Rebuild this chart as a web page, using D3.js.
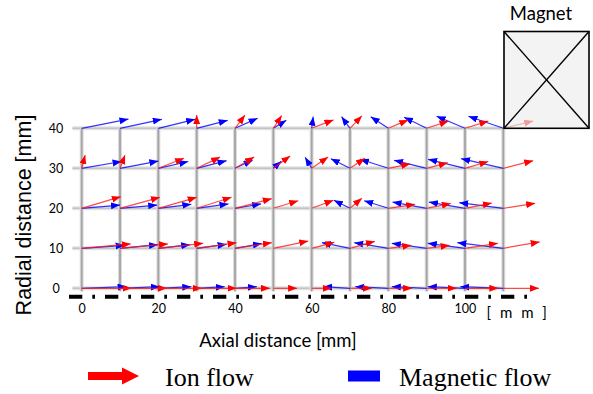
<!DOCTYPE html>
<html>
<head>
<meta charset="utf-8">
<script src="https://cdn.jsdelivr.net/npm/d3@7"></script>
<style>
  body { margin: 0; background: #fff; }
  svg { display: block; }
</style>
</head>
<body>
<svg id="chart" width="593" height="394"></svg>
<script>
// grid positions [mm]
const axial = [0, 10, 20, 30, 40, 50, 60, 70, 80, 90, 100, 110];
const radial = [0, 10, 20, 30, 40];
const xTicks = [0, 20, 40, 60, 80, 100];
const yTicks = [0, 10, 20, 30, 40];

// ion flow vectors (u = axial, v = radial), one array per radial row; null = no arrow
const ionU0 = [13.0, 12.2, 11.3, 10.4, 9.1, 6.2, 5.2, 5.7, 6.2, 7.8, 8.7, 9.3];
const ionV0 = [0, 0, 0, 0, 0, 0, 0, 0, 0, 0, 0, 0];
const ionU10 = [12.8, 12.5, 11.7, 10.4, 9.6, 9.1, 5.9, 6.5, 6.0, 6.0, 8.6, 9.5];
const ionV10 = [1.1, 1.1, 1.25, 1.4, 1.4, 1.8, 1.5, 1.75, 0.75, 0.75, 1.25, 1.6];
const ionU20 = [10.2, 10.4, 10.0, 9.1, 9.6, 6.5, 5.7, 3.1, 7.0, 6.3, 7.0, 8.3];
const ionV20 = [2.9, 2.75, 2.75, 2.75, 2.4, 1.9, 2.0, 2.5, 1.0, 1.2, 1.3, 1.25];
const ionU30 = [0.9, 1.3, 6.7, 6.1, 5.0, 4.4, 4.3, 3.9, 5.7, 5.5, 6.1, 7.8];
const ionV30 = [3.3, 3.3, 2.5, 2.8, 2.8, 3.1, 2.8, 2.5, 1.1, 1.4, 1.7, 1.9];
const ionU40 = [null, null, null, 0, 2.6, 2.2, 5.7, 3.1, 5.2, 5.7, 6.1, 7.8];
const ionV40 = [null, null, null, 3.3, 3.3, 3.2, 2.1, 3.1, 2.1, 1.8, 1.8, 1.8];

// magnetic flow vectors
const magU0 = [11.7, 10.4, 8.6, 7.3, 5.7, null, null, -7.0, -8.6, -9.1, -9.7, -11.2];
const magV0 = [0.4, 0.4, 0.4, 0.4, 0.4, null, null, 0.4, 0.4, 0.4, 0.4, 0.4];
const magU10 = [11.2, 9.9, 8.3, 7.8, 7.0, null, null, -7.3, -8.9, -9.1, -9.7, -12.0];
const magV10 = [0.75, 0.9, 0.9, 1.0, 1.2, null, null, 1.4, 1.4, 1.25, 1.25, 1.4];
const magU20 = [10.0, 9.7, 8.6, 8.3, 6.8, null, null, -4.2, -6.3, -8.9, -9.4, -11.5];
const magV20 = [0.8, 0.8, 1.0, 1.1, 1.1, null, null, 2.0, 1.9, 1.55, 1.55, 1.4];
const magU30 = [10.4, 10.0, 7.8, 7.8, 4.6, 2.1, -1.7, -5.0, -7.4, -8.5, -9.6, -11.0];
const magV30 = [1.7, 1.8, 1.7, 1.9, 2.0, 1.75, 2.75, 2.4, 2.25, 2.0, 2.25, 2.4];
const magU40 = [12.2, 10.9, 9.6, 8.1, 5.9, 3.4, 0.4, -2.2, -4.6, -5.9, -7.4, -9.1];
const magV40 = [2.3, 2.25, 2.25, 2.0, 2.5, 2.0, 2.9, 2.9, 2.9, 2.75, 3.0, 3.0];

const ionRows = [[ionU0, ionV0], [ionU10, ionV10], [ionU20, ionV20], [ionU30, ionV30], [ionU40, ionV40]];
const magRows = [[magU0, magV0], [magU10, magV10], [magU20, magV20], [magU30, magV30], [magU40, magV40]];

function toVectors(rows) {
  const out = [];
  rows.forEach(([us, vs], j) => {
    axial.forEach((ax, i) => {
      if (us[i] === null) return;
      out.push({ x: ax, y: radial[j], u: us[i], v: vs[i] });
    });
  });
  return out;
}

const svg = d3.select('#chart');
const x = d3.scaleLinear().domain([0, 110]).range([81.7, 503.3]);
const y = d3.scaleLinear().domain([0, 40]).range([288.3, 128.3]);

// arrow markers
const defs = svg.append('defs');
[['ionHead', '#ff0000'], ['magHead', '#0000ff']].forEach(([id, c]) => {
  defs.append('marker')
    .attr('id', id)
    .attr('markerUnits', 'userSpaceOnUse')
    .attr('markerWidth', 10).attr('markerHeight', 8)
    .attr('refX', 9).attr('refY', 3.5)
    .attr('orient', 'auto')
    .append('path').attr('d', 'M0,0 L9,3.5 L0,7 Z').attr('fill', c);
});

// grid
const grid = svg.append('g');
grid.selectAll('.hband').data(radial).join('line')
  .attr('x1', 72.5).attr('x2', x(110))
  .attr('y1', d => y(d)).attr('y2', d => y(d))
  .attr('stroke', '#e2e2e2').attr('stroke-width', 4);
grid.selectAll('.hline').data(radial).join('line')
  .attr('x1', 72.5).attr('x2', x(110))
  .attr('y1', d => y(d)).attr('y2', d => y(d))
  .attr('stroke', '#c4c4c4').attr('stroke-width', 1.6);
grid.selectAll('.vband').data(axial).join('line')
  .attr('x1', d => x(d)).attr('x2', d => x(d))
  .attr('y1', y(40)).attr('y2', y(0) + 3)
  .attr('stroke', '#dcdcdc').attr('stroke-width', 4);
grid.selectAll('.vline').data(axial).join('line')
  .attr('x1', d => x(d)).attr('x2', d => x(d))
  .attr('y1', y(40)).attr('y2', y(0) + 3)
  .attr('stroke', '#a4a4a4').attr('stroke-width', 1.8);

// dash-dot centre line
svg.append('line')
  .attr('x1', 69).attr('x2', 528).attr('y1', 296.7).attr('y2', 296.7)
  .attr('stroke', '#000').attr('stroke-width', 4)
  .attr('stroke-dasharray', '13.3,10,2.7,10');

// vectors
function drawVectors(data, color, head) {
  svg.append('g').selectAll('line').data(data).join('line')
    .attr('x1', d => x(d.x)).attr('y1', d => y(d.y))
    .attr('x2', d => x(d.x + d.u)).attr('y2', d => y(d.y + d.v))
    .attr('stroke', color).attr('stroke-width', 1.2)
    .attr('stroke-opacity', 0.8)
    .attr('marker-end', `url(#${head})`);
}
drawVectors(toVectors(magRows), '#0000ff', 'magHead');
drawVectors(toVectors(ionRows), '#ff1a1a', 'ionHead');

// magnet
svg.append('rect')
  .attr('x', 504).attr('y', 31.5).attr('width', 85).attr('height', 96.8)
  .attr('fill', '#ececec').attr('fill-opacity', 0.65)
  .attr('stroke', '#000').attr('stroke-width', 1.6);
svg.append('line').attr('x1', 504).attr('y1', 31.5).attr('x2', 589).attr('y2', 128.3)
  .attr('stroke', '#000').attr('stroke-width', 1.4);
svg.append('line').attr('x1', 504).attr('y1', 128.3).attr('x2', 589).attr('y2', 31.5)
  .attr('stroke', '#000').attr('stroke-width', 1.4);
svg.append('text').attr('x', 541).attr('y', 20)
  .attr('text-anchor', 'middle').attr('font-family', 'Lato, sans-serif')
  .attr('font-size', 18.5).text('Magnet');

// axes
const xAxis = svg.append('g').attr('transform', 'translate(0,304)')
  .call(d3.axisBottom(x).tickValues(xTicks).tickSize(0).tickPadding(0));
xAxis.select('.domain').remove();
xAxis.selectAll('text').attr('font-family', 'Lato, sans-serif').attr('font-size', 12.5).attr('fill', '#000');

const yAxis = svg.append('g').attr('transform', 'translate(63,0)')
  .call(d3.axisLeft(y).tickValues(yTicks).tickSize(0).tickPadding(0));
yAxis.select('.domain').remove();
yAxis.selectAll('text').attr('font-family', 'Lato, sans-serif').attr('font-size', 12.5)
  .attr('fill', '#000').attr('text-anchor', 'middle').attr('x', -7);

svg.append('text').attr('x', 518).attr('y', 318)
  .attr('text-anchor', 'middle').attr('font-family', 'Lato, sans-serif')
  .attr('font-size', 15).attr('letter-spacing', 2.5).attr('xml:space', 'preserve').text('[ m m ]');

svg.append('text').attr('x', 278).attr('y', 347)
  .attr('text-anchor', 'middle').attr('font-family', 'Lato, sans-serif')
  .attr('font-size', 18.5).text('Axial distance [mm]');

svg.append('text').attr('transform', 'translate(31,215) rotate(-90)')
  .attr('text-anchor', 'middle').attr('font-family', 'Liberation Sans, Arial, sans-serif')
  .attr('font-size', 21.5).text('Radial distance [mm]');

// legend
const leg = svg.append('g');
leg.append('path')
  .attr('d', 'M88,372 L122,372 L122,367.5 L139,376 L122,384.5 L122,380 L88,380 Z')
  .attr('fill', '#ff0000');
leg.append('text').attr('x', 165).attr('y', 386)
  .attr('font-family', 'Liberation Serif, Times New Roman, serif')
  .attr('font-size', 26).text('Ion flow');
leg.append('rect').attr('x', 348).attr('y', 370.5).attr('width', 32).attr('height', 11)
  .attr('fill', '#0000ff');
leg.append('text').attr('x', 399).attr('y', 386)
  .attr('font-family', 'Liberation Serif, Times New Roman, serif')
  .attr('font-size', 26).text('Magnetic flow');
</script>
</body>
</html>
